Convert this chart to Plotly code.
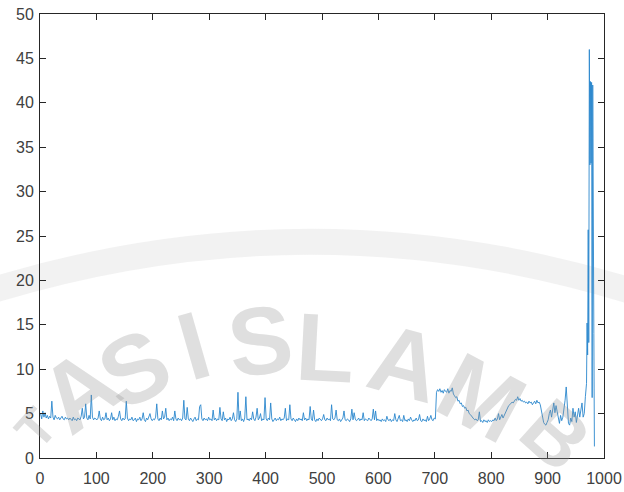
import plotly.graph_objects as go

# Sampled signal, every second index from 1 to 967, grouped per hundred samples
seg_000 = [5.0, 4.4, 5.3, 4.6, 5.1, 4.5, 4.8, 4.4, 4.7, 4.5, 6.4, 4.6, 4.3, 4.8, 4.5, 4.4, 4.6, 4.3, 4.5, 4.7, 4.4, 4.3, 4.6, 4.4, 4.5,
           4.3, 4.5, 4.4, 4.2, 4.6, 4.3, 4.4, 4.2, 4.5, 4.4, 4.3, 4.7, 5.6, 4.4, 4.6, 6.1, 4.5, 4.3, 4.8, 4.4, 7.1, 4.6, 4.3, 4.5, 4.4]
seg_100 = [4.3, 4.5, 5.3, 4.4, 4.2, 4.6, 4.3, 4.4, 5.1, 4.3, 4.5, 4.2, 4.4, 5.1, 4.3, 4.6, 4.2, 4.4, 4.3, 4.7, 5.3, 4.4, 4.2, 4.5, 4.3,
           4.4, 6.4, 4.5, 4.2, 4.4, 4.3, 4.6, 4.2, 4.3, 4.5, 4.1, 4.4, 4.3, 4.6, 4.2, 4.4, 5.1, 4.3, 4.1, 4.5, 4.3, 4.6, 5.0, 4.4, 4.2]
seg_200 = [4.4, 4.3, 4.6, 6.1, 4.4, 4.2, 4.5, 4.3, 5.3, 4.4, 4.6, 5.6, 4.3, 4.5, 4.2, 4.4, 4.3, 4.6, 4.2, 5.3, 4.4, 4.2, 4.5, 4.3, 4.4,
           4.2, 4.5, 6.5, 4.4, 4.3, 5.7, 4.4, 4.2, 4.5, 4.3, 4.1, 4.4, 4.6, 4.2, 4.4, 4.3, 5.8, 6.0, 4.4, 4.2, 4.5, 4.3, 4.4, 4.2, 4.6]
seg_300 = [4.3, 4.4, 4.2, 5.4, 4.3, 4.5, 4.2, 4.4, 4.3, 5.7, 4.4, 4.2, 5.2, 4.3, 4.5, 4.1, 4.4, 4.3, 4.6, 4.2, 4.4, 5.1, 4.3, 4.1, 4.4,
           7.4, 4.3, 5.3, 4.2, 4.4, 4.1, 4.5, 6.9, 4.3, 4.4, 4.2, 4.5, 4.3, 5.2, 4.4, 4.2, 4.6, 5.6, 4.3, 4.5, 5.0, 4.2, 4.4, 4.3, 6.8]
seg_400 = [4.4, 4.2, 4.5, 4.3, 6.2, 4.4, 4.1, 4.3, 4.5, 4.2, 4.4, 4.3, 4.6, 4.2, 4.4, 4.3, 4.5, 5.6, 4.2, 4.4, 4.3, 6.0, 4.4, 4.2, 4.5,
           4.3, 4.1, 4.4, 4.2, 4.5, 4.3, 4.4, 4.2, 5.1, 4.3, 4.5, 4.2, 4.4, 4.3, 5.8, 4.4, 4.2, 5.4, 4.3, 4.1, 4.4, 4.2, 4.5, 4.3, 4.2]
seg_500 = [4.4, 4.9, 4.3, 4.2, 4.5, 4.3, 4.4, 4.2, 6.0, 4.4, 4.3, 4.5, 5.4, 4.3, 4.2, 4.4, 4.1, 4.3, 4.5, 5.3, 4.3, 4.2, 4.4, 4.3, 4.1,
           4.4, 5.5, 4.3, 5.1, 4.4, 4.2, 4.3, 4.5, 4.2, 4.4, 4.3, 5.1, 4.2, 4.4, 4.3, 4.2, 4.5, 4.3, 4.2, 4.4, 5.5, 4.3, 5.3, 4.2, 4.4]
seg_600 = [4.2, 4.3, 4.1, 4.4, 4.2, 4.3, 4.1, 4.7, 4.3, 4.2, 4.4, 4.1, 4.3, 4.2, 5.0, 4.3, 4.1, 4.4, 4.8, 4.2, 4.3, 4.1, 4.8, 4.2, 4.3,
           4.1, 4.4, 4.2, 4.6, 4.3, 4.1, 4.3, 4.2, 4.5, 4.2, 4.3, 4.9, 4.2, 4.1, 4.4, 4.2, 4.3, 4.1, 4.7, 4.2, 4.4, 4.8, 4.3, 4.2, 4.5]
seg_700 = [4.4, 7.4, 7.7, 7.5, 7.8, 7.4, 7.6, 7.3, 7.7, 7.5, 7.4, 7.8, 7.3, 7.6, 7.5, 7.9, 7.2, 7.0, 6.8, 6.9, 6.4, 6.5, 6.1, 6.2, 5.8,
           5.9, 5.6, 5.7, 5.3, 5.4, 5.0, 4.9, 4.7, 4.6, 4.4, 4.3, 4.4, 4.2, 4.3, 5.2, 4.1, 4.2, 4.0, 4.3, 4.1, 4.2, 4.0, 4.3, 4.1, 4.2]
seg_800 = [4.1, 4.3, 4.2, 4.5, 4.2, 4.4, 5.0, 4.3, 4.6, 4.9, 4.5, 4.8, 5.2, 5.4, 5.6, 5.9, 6.0, 6.1, 6.3, 6.2, 6.4, 6.6, 6.5, 6.9, 6.5,
           6.7, 6.4, 6.5, 6.3, 6.4, 6.2, 6.3, 6.1, 6.4, 6.2, 6.3, 6.0, 6.2, 6.4, 6.1, 6.5, 6.2, 6.3, 6.0, 5.2, 4.3, 4.0, 3.8, 3.7, 4.0]
seg_900 = [4.3, 5.0, 5.4, 4.6, 5.8, 6.2, 5.1, 5.9, 5.2, 4.5, 3.9, 4.8, 4.2, 4.6, 5.4, 6.5, 8.0, 5.0, 3.9, 3.7,
           4.5, 4.1, 5.6, 4.6, 5.2, 4.0, 4.8, 5.6, 4.6, 5.3, 6.2, 4.6, 5.0, 6.9]

# Final burst, every index
burst_x = [969, 970, 971, 972, 973, 974, 975, 976, 977, 978, 979, 980, 981, 982, 983]
burst_y = [8.4, 15.2, 11.6, 25.7, 13.0, 46.0, 33.0, 42.4, 33.2, 42.3, 6.8, 42.0, 33.0, 14.0, 1.3]

x_vals = list(range(1, 968, 2)) + burst_x
y_vals = seg_000 + seg_100 + seg_200 + seg_300 + seg_400 + seg_500 + seg_600 + seg_700 + seg_800 + seg_900 + burst_y

x_ticks = [0, 100, 200, 300, 400, 500, 600, 700, 800, 900, 1000]
y_ticks = [0, 5, 10, 15, 20, 25, 30, 35, 40, 45, 50]

fig = go.Figure()
fig.add_trace(go.Scatter(x=x_vals, y=y_vals, mode="lines",
                         line=dict(color="#2a87cd", width=0.9), showlegend=False))

# Background seal: ring and lettering
L, T, W, H = 40, 14, 564, 444


def px(xp, yp):
    return (xp - L) / W, (T + H - yp) / H


p0, p1, p2 = px(-10, 291), px(312, 192), px(634, 292)
fig.add_shape(type="path", xref="paper", yref="paper", layer="below",
              path=f"M {p0[0]:.4f},{p0[1]:.4f} Q {p1[0]:.4f},{p1[1]:.4f} {p2[0]:.4f},{p2[1]:.4f}",
              line=dict(color="rgba(185,185,185,0.18)", width=26))

# (letter, x px, y px, angle, size)
letters = [("T", 36, 428, -48, 52), ("A", 78, 390, -36, 96), ("S", 134, 368, -27, 96),
           ("I", 193, 345, -16, 96), ("S", 260, 340, -7, 96), ("L", 325, 347, 3, 96),
           ("A", 405, 362, 15, 96), ("M", 482, 397, 28, 96), ("B", 556, 434, 42, 82)]
for ch, lx, ly, ang, sz in letters:
    ax, ay = px(lx, ly)
    fig.add_annotation(x=ax, y=ay, xref="paper", yref="paper", text=ch, showarrow=False,
                       textangle=ang, xanchor="center", yanchor="middle",
                       font=dict(family="Liberation Sans", size=sz, weight="bold",
                                 color="rgba(150,150,150,0.30)"))

axis_style = dict(showgrid=False, zeroline=False, showline=True, linecolor="#262626", linewidth=1,
                  mirror="allticks", ticks="inside", ticklen=6, tickwidth=1, tickcolor="#262626",
                  tickfont=dict(family="Liberation Sans, Arial", size=16, color="#404040"))

fig.update_layout(
    width=624, height=492,
    margin=dict(l=L, r=624 - L - W, t=T, b=492 - T - H, autoexpand=False),
    paper_bgcolor="white", plot_bgcolor="white",
    xaxis=dict(range=[0, 1000], tickvals=x_ticks, ticklabelstandoff=6, **axis_style),
    yaxis=dict(range=[0, 50], tickvals=y_ticks, ticklabelstandoff=2, **axis_style),
)

fig.write_html("out.html")
